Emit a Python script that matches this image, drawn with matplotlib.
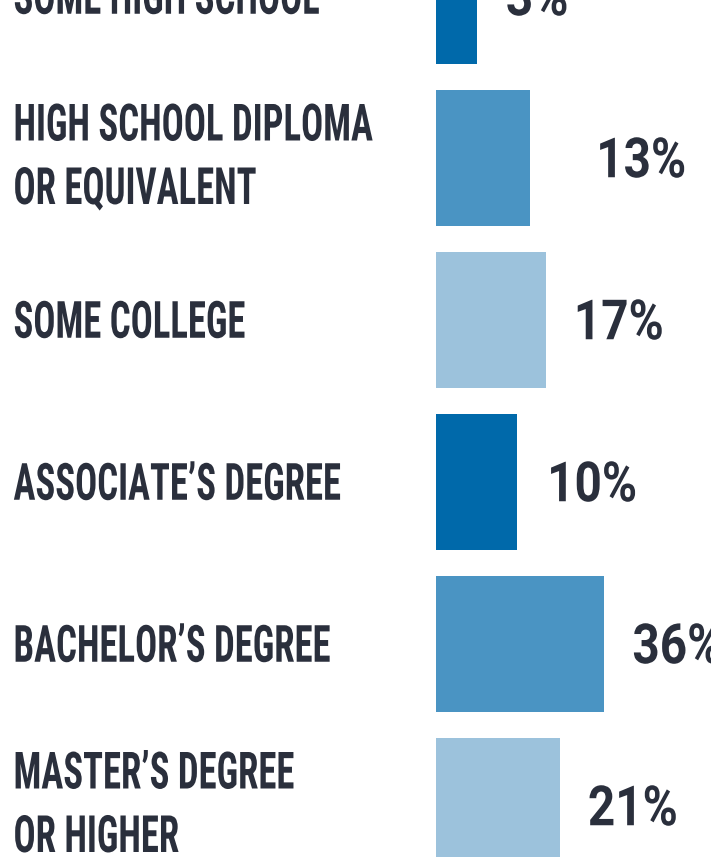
import matplotlib
matplotlib.use("Agg")
import matplotlib.pyplot as plt
import numpy as np
from matplotlib.patheffects import AbstractPathEffect
from matplotlib.transforms import Affine2D, blended_transform_factory
from matplotlib.textpath import TextPath
from matplotlib.font_manager import FontProperties

# ---------------- data ----------------
categories = [
    "SOME HIGH SCHOOL",
    "HIGH SCHOOL DIPLOMA\nOR EQUIVALENT",
    "SOME COLLEGE",
    "ASSOCIATE’S DEGREE",
    "BACHELOR’S DEGREE",
    "MASTER’S DEGREE\nOR HIGHER",
]
values = [3, 13, 17, 10, 36, 21]
value_labels = ["3%", "13%", "17%", "10%", "36%", "21%"]

# ---------------- style ----------------
bar_colors = ["#0069aa", "#4a94c3", "#9cc2dc", "#0069aa", "#4a94c3", "#9cc2dc"]
label_gaps_px = [29, 66, 28, 30, 28, 28]
TEXT = "#2a2f3c"
W, H, DPI = 711, 857, 100
PITCH = 162.0          # px between rows
FIRST_CENTER = -4.5    # px from top of first row centre
BAR_H = 136.0          # px
BAR_LEFT = 436.0       # px
SCALE_P = 0.57         # bar length scale exponent
SCALE_C = 21.84        # px per unit^p

label_fp = FontProperties(family=["Roboto Condensed", "Liberation Sans Narrow", "DejaVu Sans"], weight="bold")
value_fp = FontProperties(family=["Roboto", "DejaVu Sans"], weight="bold")


class HStretch(AbstractPathEffect):
    """Horizontally condense text around its own origin."""
    def __init__(self, sx):
        super().__init__()
        self.sx = sx

    def draw_path(self, renderer, gc, tpath, affine, rgbFace=None):
        x0 = affine.get_matrix()[0, 2]
        aff = affine + Affine2D().translate(-x0, 0).scale(self.sx, 1).translate(x0, 0)
        renderer.draw_path(gc, tpath, aff, rgbFace)


def ink(text, fp, size):
    ext = TextPath((0, 0), text, size=size, prop=fp).get_extents()
    return ext.width, ext.height


# label font metrics
CAP = 36.5
_, hcap = ink("H", label_fp, 100)
label_px = CAP / (hcap / 100)
wref, _ = ink("HIGH SCHOOL DIPLOMA", label_fp, label_px)
label_sx = min(1.0, 357.0 / wref)
LINE_PITCH = 63.5

# value font metrics
DIG = 39.5
_, hdig = ink("1", value_fp, 100)
value_px = DIG / (hdig / 100)
wv, _ = ink("17%", value_fp, value_px)
value_sx = min(1.0, 84.0 / wv)

fig = plt.figure(figsize=(W / DPI, H / DPI), dpi=DPI)
fig.patch.set_facecolor("white")
ax = fig.add_axes([BAR_LEFT / W, 0, 1 - BAR_LEFT / W, 1])
ax.set_xscale("function",
              functions=(lambda x: np.power(np.clip(x, 0, None), SCALE_P),
                         lambda x: np.power(np.clip(x, 0, None), 1 / SCALE_P)))
xmax = ((W - BAR_LEFT) / SCALE_C) ** (1 / SCALE_P)
ax.set_xlim(0, xmax)
ax.set_ylim((H - FIRST_CENTER) / PITCH, -FIRST_CENTER / PITCH)
ax.axis("off")

ypos = np.arange(len(values))
ax.barh(ypos, values, height=BAR_H / PITCH, color=bar_colors, left=0)

trans = blended_transform_factory(fig.transFigure, ax.transData)
for i, lab in enumerate(categories):
    lines = lab.split("\n")
    n = len(lines)
    block = (n - 1) * LINE_PITCH + CAP
    shift = -3.5 if n > 1 else 0.0
    for k, line in enumerate(lines):
        base_px = -block / 2 + CAP + k * LINE_PITCH + shift
        ax.text(13.5 / W, i + base_px / PITCH, line, transform=trans,
                fontproperties=label_fp, fontsize=label_px * 72 / DPI,
                color=TEXT, ha="left", va="baseline",
                path_effects=[HStretch(label_sx)])

for i, (v, t) in enumerate(zip(values, value_labels)):
    ax.annotate(t, xy=(v, i), xytext=(label_gaps_px[i] * 72 / DPI, -DIG / 2 * 72 / DPI),
                textcoords="offset points", ha="left", va="baseline",
                fontproperties=value_fp, fontsize=value_px * 72 / DPI, color=TEXT,
                annotation_clip=False, path_effects=[HStretch(value_sx)])

fig.savefig("out.png", dpi=DPI, facecolor="white")
